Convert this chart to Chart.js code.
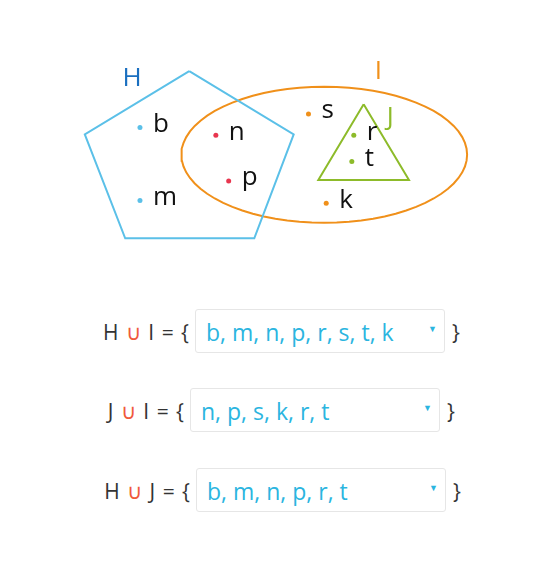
<!DOCTYPE html>
<html>
<head>
<meta charset="utf-8">
<script src="https://cdn.jsdelivr.net/npm/chart.js@4"></script>
<style>
  body { margin: 0; width: 546px; height: 569px; background: #fff; font-family: "Open Sans", Lato, sans-serif; position: relative; overflow: hidden; }
  #venn { position: absolute; left: 0; top: 0; }
  .row { position: absolute; left: 0; font-size: 21px; color: #333; }
  .lbl { position: absolute; white-space: nowrap; text-align: right; width: 160px; letter-spacing: 1px; }
  .br { position: absolute; }
  .u { color: #f05a3c; }
  .box { position: absolute; height: 44px; border: 1px solid #e6e6e6; border-radius: 3px; color: #2bb5df; font-size: 23px; line-height: 44px; padding-left: 10px; box-sizing: border-box; white-space: nowrap; }
  .box i { position: absolute; right: 7px; top: -3px; font-style: normal; font-size: 9px; color: #2bb5df; }
</style>
</head>
<body>
<canvas id="venn" width="546" height="290"></canvas>
<div id="rows"></div>
<script>
// ===== Dados =====
const pentagonH = [[188,69],[294,134],[254,241],[123,241],[82,134],[188,69]];
const triangleJ = [[365,103],[411,181],[319,181],[365,103]];
const ellipseI = { cx: 325, cy: 155, rx: 145, ry: 70 };

const elements = ['b', 'm', 'n', 'p', 's', 'r', 't', 'k'];
const elemX = [138, 138, 215, 228, 309, 355, 353, 327];
const elemY = [127, 202, 135, 182, 113, 135, 162, 205];
const elemColor = ['#5bc0e8', '#5bc0e8', '#e8364f', '#e8364f', '#f0901a', '#8dbb2a', '#8dbb2a', '#f0901a'];

const setNames = ['H', 'I', 'J'];
const setLabelX = [130, 380, 392];
const setLabelY = [77, 70, 117];
const setColor = ['#1a6fc0', '#f0901a', '#8dbb2a'];

const equations = [
  { a: 'H', b: 'I', answer: 'b, m, n, p, r, s, t, k' },
  { a: 'J', b: 'I', answer: 'n, p, s, k, r, t' },
  { a: 'H', b: 'J', answer: 'b, m, n, p, r, t' }
];

// ===== Contorno da elipse =====
const ellipsePts = [];
for (let i = 0; i <= 72; i++) {
  const a = i / 72 * Math.PI * 2;
  ellipsePts.push({ x: ellipseI.cx + ellipseI.rx * Math.cos(a), y: ellipseI.cy + ellipseI.ry * Math.sin(a) });
}
const toPts = arr => arr.map(p => ({ x: p[0], y: p[1] }));

// ===== Plugin de rótulos =====
const labelPlugin = {
  id: 'labels',
  afterDatasetsDraw(chart) {
    const { ctx, scales: { x, y } } = chart;
    ctx.save();
    ctx.textBaseline = 'middle';
    ctx.font = '26px "Open Sans", Lato, sans-serif';
    ctx.fillStyle = '#111';
    elements.forEach((e, i) => {
      ctx.fillText(e, x.getPixelForValue(elemX[i]) + 13, y.getPixelForValue(elemY[i]) - 3);
    });
    ctx.font = '26px "Open Sans", Lato, sans-serif';
    setNames.forEach((s, i) => {
      ctx.fillStyle = setColor[i];
      ctx.textAlign = 'center';
      ctx.fillText(s, x.getPixelForValue(setLabelX[i]), y.getPixelForValue(setLabelY[i]));
    });
    ctx.restore();
  }
};

const outline = (data, color) => ({
  data, showLine: true, borderColor: color, borderWidth: 2, pointRadius: 0, fill: false, tension: 0
});

new Chart(document.getElementById('venn'), {
  type: 'scatter',
  data: {
    datasets: [
      outline(toPts(pentagonH), '#5bc0e8'),
      outline(ellipsePts, '#f0901a'),
      outline(toPts(triangleJ), '#8dbb2a'),
      {
        data: elemX.map((v, i) => ({ x: v, y: elemY[i] })),
        pointRadius: 2.5, pointBackgroundColor: elemColor, pointBorderWidth: 0
      }
    ]
  },
  options: {
    responsive: false, animation: false,
    layout: { padding: 0 },
    plugins: { legend: { display: false }, tooltip: { enabled: false } },
    scales: {
      x: { type: 'linear', min: 0, max: 546, display: false },
      y: { type: 'linear', min: 0, max: 290, reverse: true, display: false }
    }
  },
  plugins: [labelPlugin]
});

// ===== Equações =====
const rowTops = [309, 388, 468];
const boxLefts = [195, 190, 196];
const rows = document.getElementById('rows');
equations.forEach((eq, i) => {
  rows.innerHTML += `
    <div class="row" style="top:${rowTops[i]}px">
      <span class="lbl" style="left:${boxLefts[i] - 165}px;top:9px">${eq.a} <span class="u">∪</span> ${eq.b} = {</span>
      <div class="box" style="left:${boxLefts[i]}px;width:250px">${eq.answer}<i>▼</i></div>
      <span class="br" style="left:${boxLefts[i] + 257}px;top:9px">}</span>
    </div>`;
});
</script>
</body>
</html>
